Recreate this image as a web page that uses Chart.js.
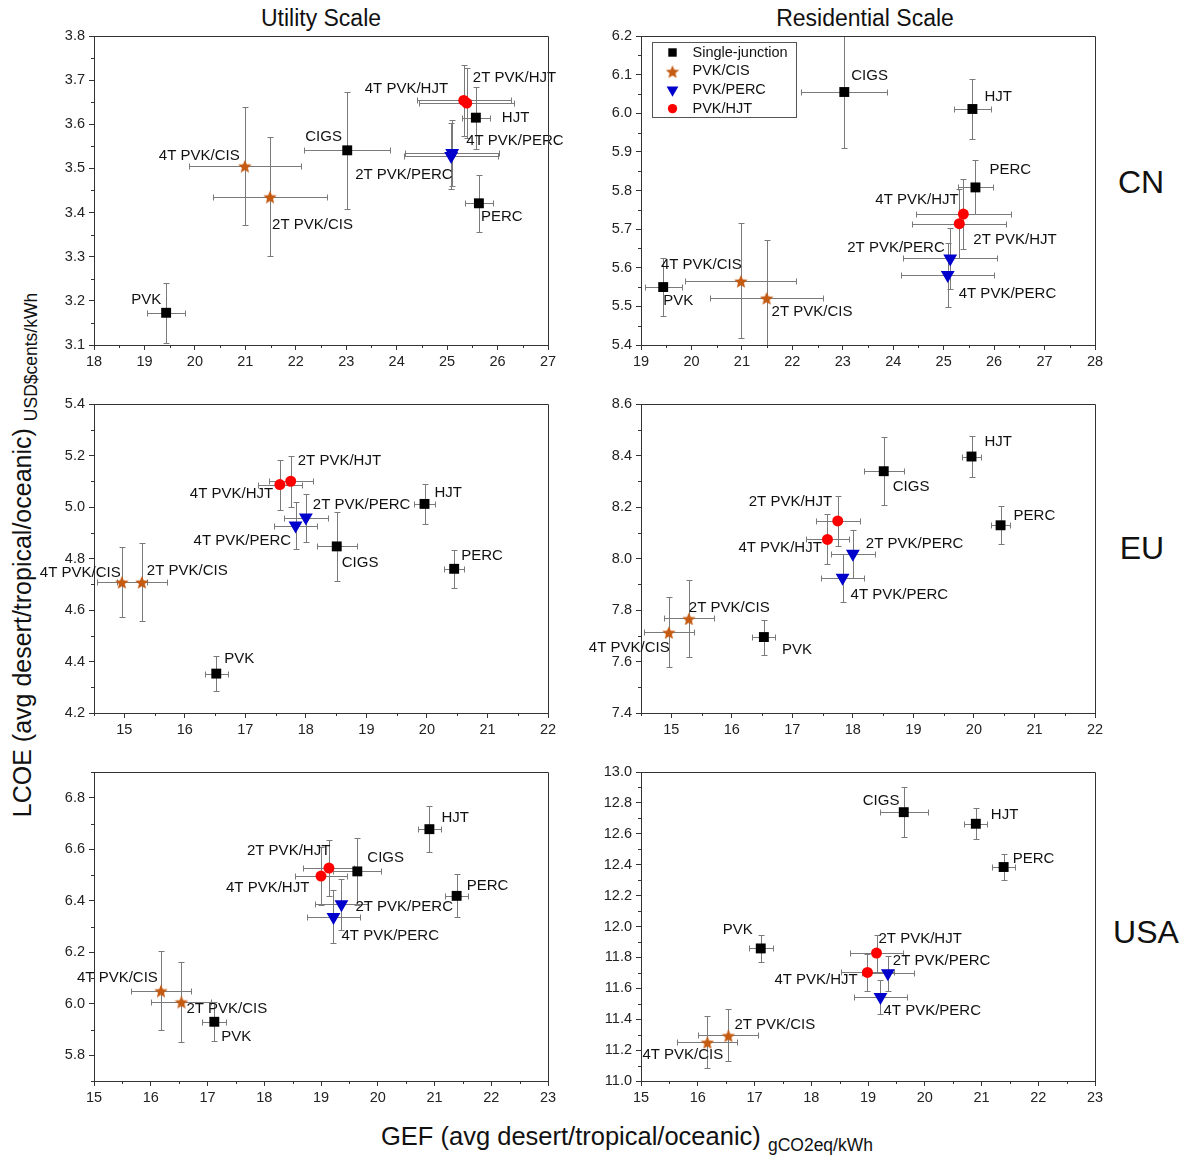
<!DOCTYPE html>
<html>
<head>
<meta charset="utf-8">
<script src="https://cdn.jsdelivr.net/npm/chart.js@4.4.1/dist/chart.umd.min.js"></script>
<style>
    body { margin: 0; background: #fff; width: 1192px; height: 1156px; position: relative; overflow: hidden;
           font-family: "Liberation Sans", Arial, sans-serif; color: #111; }
    canvas { position: absolute; }
    .txt { position: absolute; white-space: nowrap; line-height: 1; }
    .col { font-size: 23px; top: 7px; transform: translateX(-50%); }
    .row { font-size: 32px; transform: translate(-50%, -50%); }
    .sub { font-size: 17.5px; position: relative; top: 6px; }
</style>
</head>
<body>
<div class="txt col" style="left:321px">Utility Scale</div>
<div class="txt col" style="left:865px">Residential Scale</div>
<div class="txt row" style="left:1141px;top:182px">CN</div>
<div class="txt row" style="left:1142px;top:548px">EU</div>
<div class="txt row" style="left:1146px;top:932px">USA</div>
<div class="txt" style="font-size:25px;left:22px;top:555px;transform:translate(-50%,-50%) rotate(-90deg)">LCOE (avg desert/tropical/oceanic) <span class="sub">USD$cents/kWh</span></div>
<div class="txt" style="font-size:25.5px;left:381px;top:1124px">GEF (avg desert/tropical/oceanic) <span class="sub">gCO2eq/kWh</span></div>

<script>
'use strict';

// devices, same order in every panel
const devices = ['PVK', 'CIGS', 'HJT', 'PERC', '4T PVK/CIS', '2T PVK/CIS', '4T PVK/PERC', '2T PVK/PERC', '4T PVK/HJT', '2T PVK/HJT'];
const deviceGroup = [0, 0, 0, 0, 1, 1, 2, 2, 3, 3];
const groups = ['Single-junction', 'PVK/CIS', 'PVK/PERC', 'PVK/HJT'];

// CN utility
const cnUtilGef = [19.43, 23.02, 25.57, 25.63, 20.99, 21.49, 25.10, 25.08, 25.33, 25.39];
const cnUtilGefErr = [0.38, 0.85, 0.28, 0.27, 1.11, 1.13, 0.93, 0.93, 0.93, 0.94];
const cnUtilLcoe = [3.173, 3.541, 3.615, 3.421, 3.506, 3.436, 3.535, 3.528, 3.654, 3.648];
const cnUtilLcoeErr = [0.068, 0.132, 0.07, 0.064, 0.134, 0.135, 0.075, 0.075, 0.08, 0.08];

// CN residential
const cnResGef = [19.44, 23.03, 25.57, 25.63, 20.98, 21.49, 25.08, 25.13, 25.39, 25.31];
const cnResGefErr = [0.37, 0.85, 0.36, 0.34, 1.1, 1.12, 0.92, 0.93, 0.94, 0.93];
const cnResLcoe = [5.55, 6.055, 6.011, 5.808, 5.566, 5.522, 5.581, 5.624, 5.739, 5.714];
const cnResLcoeErr = [0.075, 0.146, 0.078, 0.07, 0.149, 0.15, 0.083, 0.08, 0.09, 0.09];

// EU utility
const euUtilGef = [16.52, 18.51, 19.96, 20.45, 14.96, 15.29, 17.83, 18.0, 17.57, 17.75];
const euUtilGefErr = [0.19, 0.33, 0.17, 0.16, 0.41, 0.41, 0.36, 0.36, 0.36, 0.36];
const euUtilLcoe = [4.353, 4.847, 5.012, 4.76, 4.709, 4.709, 4.928, 4.959, 5.087, 5.10];
const euUtilLcoeErr = [0.068, 0.133, 0.079, 0.073, 0.135, 0.15, 0.09, 0.093, 0.097, 0.1];

// EU residential
const euResGef = [16.53, 18.51, 19.96, 20.44, 14.96, 15.29, 17.83, 18.0, 17.58, 17.75];
const euResGefErr = [0.19, 0.33, 0.16, 0.16, 0.41, 0.41, 0.36, 0.36, 0.36, 0.36];
const euResLcoe = [7.695, 8.339, 8.396, 8.129, 7.714, 7.767, 7.925, 8.018, 8.074, 8.146];
const euResLcoeErr = [0.068, 0.133, 0.08, 0.073, 0.136, 0.15, 0.093, 0.093, 0.097, 0.098];

// USA utility
const usUtilGef = [17.12, 19.64, 20.91, 21.39, 16.18, 16.54, 19.22, 19.36, 19.0, 19.14];
const usUtilGefErr = [0.21, 0.42, 0.2, 0.2, 0.53, 0.53, 0.46, 0.46, 0.45, 0.45];
const usUtilLcoe = [5.93, 6.514, 6.678, 6.419, 6.051, 6.008, 6.337, 6.386, 6.496, 6.527];
const usUtilLcoeErr = [0.075, 0.13, 0.09, 0.083, 0.152, 0.155, 0.103, 0.1, 0.113, 0.11];

// USA residential
const usResGef = [17.11, 19.63, 20.90, 21.39, 16.17, 16.54, 19.22, 19.35, 18.99, 19.15];
const usResGefErr = [0.21, 0.42, 0.2, 0.2, 0.53, 0.53, 0.46, 0.46, 0.46, 0.46];
const usResLcoe = [11.858, 12.74, 12.665, 12.385, 11.252, 11.295, 11.544, 11.697, 11.703, 11.828];
const usResLcoeErr = [0.085, 0.16, 0.1, 0.086, 0.166, 0.168, 0.11, 0.113, 0.118, 0.12];

// tick labels
const cnUtilXTicks = [18, 19, 20, 21, 22, 23, 24, 25, 26, 27];
const cnResXTicks = [19, 20, 21, 22, 23, 24, 25, 26, 27, 28];
const euXTicks = [15, 16, 17, 18, 19, 20, 21, 22];
const usXTicks = [15, 16, 17, 18, 19, 20, 21, 22, 23];
const cnUtilYTicks = [3.1, 3.2, 3.3, 3.4, 3.5, 3.6, 3.7, 3.8];
const cnResYTicks = [5.4, 5.5, 5.6, 5.7, 5.8, 5.9, 6.0, 6.1, 6.2];
const euUtilYTicks = [4.2, 4.4, 4.6, 4.8, 5.0, 5.2, 5.4];
const euResYTicks = [7.4, 7.6, 7.8, 8.0, 8.2, 8.4, 8.6];
const usUtilYTicks = [5.8, 6.0, 6.2, 6.4, 6.6, 6.8];
const usResYTicks = [11.0, 11.2, 11.4, 11.6, 11.8, 12.0, 12.2, 12.4, 12.6, 12.8, 13.0];

const FONT = '"Liberation Sans", Arial, sans-serif';
const PLOT_W = 454, PLOT_H = 309;
const PAD_L = 60, PAD_T = 14, PAD_R = 40, Y_W = 48, X_H = 30;

function makeStar (size, color) {
    const c = document.createElement('canvas');
    c.width = size;
    c.height = size;
    const g = c.getContext('2d');
    const r = size / 2;
    g.fillStyle = color;
    g.beginPath();
    for (let k = 0; k < 10; k++) {
        const rad = k % 2 ? r * 0.45 : r;
        const a = -Math.PI / 2 + k * Math.PI / 5;
        g.lineTo(r + rad * Math.cos(a), r + 1 + rad * Math.sin(a));
    }
    g.closePath();
    g.fill();
    return c;
}

const groupStyle = [
    { pointStyle: 'rect', radius: 7, rotation: 0, color: '#000000' },
    { pointStyle: makeStar(14, '#c55a11'), radius: 7, rotation: 0, color: '#c55a11' },
    { pointStyle: 'triangle', radius: 8, rotation: 180, color: '#0000cc' },
    { pointStyle: 'circle', radius: 5.5, rotation: 0, color: '#ff0000' }
];

// [dx, dy] of each label's left edge / middle, relative to its marker
const panels = [
    {
        left: 94, top: 36, gef: cnUtilGef, gefErr: cnUtilGefErr, lcoe: cnUtilLcoe, lcoeErr: cnUtilLcoeErr,
        x: [18, 27, cnUtilXTicks], y: [3.1, 3.8, cnUtilYTicks],
        labelPos: [[-35, -13], [-42, -13], [26, 0], [2, 14], [-86, -10], [2, 28], [14, -12], [-96, 19], [-99, -12], [6, -25]]
    },
    {
        left: 641, top: 36, gef: cnResGef, gefErr: cnResGefErr, lcoe: cnResLcoe, lcoeErr: cnResLcoeErr,
        x: [19, 28, cnResXTicks], y: [5.4, 6.2, cnResYTicks], legend: true,
        labelPos: [[0, 14], [7, -16], [12, -12], [14, -18], [-80, -16], [5, 14], [11, 19], [-103, -11], [-88, -14], [14, 16]]
    },
    {
        left: 94, top: 404, gef: euUtilGef, gefErr: euUtilGefErr, lcoe: euUtilLcoe, lcoeErr: euUtilLcoeErr,
        x: [14.5, 22, euXTicks], y: [4.2, 5.4, euUtilYTicks],
        labelPos: [[8, -15], [5, 16], [10, -11], [7, -13], [-82, -9], [5, -11], [-102, 15], [7, -13], [-90, 9], [7, -20]]
    },
    {
        left: 641, top: 404, gef: euResGef, gefErr: euResGefErr, lcoe: euResLcoe, lcoeErr: euResLcoeErr,
        x: [14.5, 22, euXTicks], y: [7.4, 8.6, euResYTicks],
        labelPos: [[18, 13], [9, 16], [13, -15], [13, -9], [-80, 16], [0, -11], [8, 17], [13, -10], [-89, 8], [-89, -19]]
    },
    {
        left: 94, top: 772, gef: usUtilGef, gefErr: usUtilGefErr, lcoe: usUtilLcoe, lcoeErr: usUtilLcoeErr,
        x: [15, 23, usXTicks], y: [5.7, 6.9, usUtilYTicks],
        labelPos: [[7, 15], [10, -14], [12, -11], [10, -10], [-84, -13], [5, 7], [8, 19], [14, 3], [-95, 12], [-82, -17]]
    },
    {
        left: 641, top: 772, gef: usResGef, gefErr: usResGefErr, lcoe: usResLcoe, lcoeErr: usResLcoeErr,
        x: [15, 23, usXTicks], y: [11, 13, usResYTicks],
        labelPos: [[-38, -19], [-41, -11], [15, -9], [9, -8], [-65, 13], [6, -11], [3, 14], [5, -12], [-93, 7], [2, -14]]
    }
];

function minorTicks (ticks, min, max) {
    const step = ticks[1] - ticks[0];
    let out = [];
    for (let v = ticks[0] - step / 2; v <= max + 1e-9; v += step) {
        if (v >= min - 1e-9) {
            out.push(v);
        }
    }
    return out;
}

function crisp (v) {
    return Math.round(v) + 0.5;
}

// error bars, point labels, frame, minor ticks and legend
function panelPlugin (panel) {
    return {
        id: 'panelExtras',
        beforeDatasetsDraw (chart) {
            const { ctx, chartArea: a, scales: { x, y } } = chart;
            ctx.save();
            ctx.beginPath();
            ctx.rect(a.left, a.top, a.right - a.left, a.bottom - a.top);
            ctx.clip();
            ctx.strokeStyle = '#7a7a7a';
            ctx.lineWidth = 1;
            ctx.beginPath();
            panel.gef.forEach((g, i) => {
                const px = crisp(x.getPixelForValue(g));
                const py = crisp(y.getPixelForValue(panel.lcoe[i]));
                const x0 = crisp(x.getPixelForValue(g - panel.gefErr[i]));
                const x1 = crisp(x.getPixelForValue(g + panel.gefErr[i]));
                const y0 = crisp(y.getPixelForValue(panel.lcoe[i] - panel.lcoeErr[i]));
                const y1 = crisp(y.getPixelForValue(panel.lcoe[i] + panel.lcoeErr[i]));
                ctx.moveTo(x0, py); ctx.lineTo(x1, py);
                ctx.moveTo(x0, py - 3); ctx.lineTo(x0, py + 3);
                ctx.moveTo(x1, py - 3); ctx.lineTo(x1, py + 3);
                ctx.moveTo(px, y0); ctx.lineTo(px, y1);
                ctx.moveTo(px - 3, y0); ctx.lineTo(px + 3, y0);
                ctx.moveTo(px - 3, y1); ctx.lineTo(px + 3, y1);
            });
            ctx.stroke();
            ctx.restore();
        },
        afterDatasetsDraw (chart) {
            const { ctx, scales: { x, y } } = chart;
            ctx.save();
            ctx.font = '15px ' + FONT;
            ctx.fillStyle = '#111';
            ctx.textBaseline = 'middle';
            ctx.textAlign = 'left';
            devices.forEach((name, i) => {
                const [dx, dy] = panel.labelPos[i];
                ctx.fillText(name, x.getPixelForValue(panel.gef[i]) + dx, y.getPixelForValue(panel.lcoe[i]) + dy);
            });
            ctx.restore();
        },
        afterDraw (chart) {
            const { ctx, chartArea: a, scales: { x, y } } = chart;
            ctx.save();
            ctx.strokeStyle = '#333';
            ctx.lineWidth = 1;
            ctx.beginPath();
            ctx.moveTo(crisp(a.left), crisp(a.top));
            ctx.lineTo(crisp(a.right), crisp(a.top));
            ctx.lineTo(crisp(a.right), crisp(a.bottom));
            minorTicks(panel.x[2], panel.x[0], panel.x[1]).forEach(v => {
                const px = crisp(x.getPixelForValue(v));
                ctx.moveTo(px, a.bottom);
                ctx.lineTo(px, a.bottom + 3);
            });
            minorTicks(panel.y[2], panel.y[0], panel.y[1]).forEach(v => {
                const py = crisp(y.getPixelForValue(v));
                ctx.moveTo(a.left, py);
                ctx.lineTo(a.left - 3, py);
            });
            ctx.stroke();

            if (panel.legend) {
                const bx = crisp(a.left + 11), by = crisp(a.top + 6);
                ctx.strokeStyle = '#555';
                ctx.strokeRect(bx, by, 144, 75);
                ctx.font = '14.5px ' + FONT;
                ctx.textBaseline = 'middle';
                ctx.fillStyle = '#111';
                groups.forEach((name, g) => {
                    const ry = by + 10 + g * 18.7;
                    const st = groupStyle[g];
                    ctx.fillStyle = st.color;
                    Chart.helpers.drawPoint(ctx, {
                        pointStyle: st.pointStyle, radius: st.radius * 0.85, rotation: st.rotation, borderWidth: 0
                    }, bx + 20, ry);
                    ctx.fillStyle = '#111';
                    ctx.fillText(name, bx + 40, ry);
                });
            }
            ctx.restore();
        }
    };
}

panels.forEach(panel => {
    const canvas = document.createElement('canvas');
    canvas.width = PAD_L + Y_W + PLOT_W + PAD_R;
    canvas.height = PAD_T + PLOT_H + X_H;
    canvas.style.left = (panel.left - Y_W - PAD_L) + 'px';
    canvas.style.top = (panel.top - PAD_T) + 'px';
    document.body.appendChild(canvas);

    const datasets = groups.map((name, g) => {
        const st = groupStyle[g];
        let points = [];
        deviceGroup.forEach((dg, i) => {
            if (dg === g) {
                points.push({ x: panel.gef[i], y: panel.lcoe[i] });
            }
        });
        return {
            label: name,
            data: points,
            pointStyle: st.pointStyle,
            pointRadius: st.radius,
            pointRotation: st.rotation,
            backgroundColor: st.color,
            borderColor: st.color,
            borderWidth: 0
        };
    });

    const tickFont = { family: FONT, size: 14.5 };

    new Chart(canvas, {
        type: 'scatter',
        data: { datasets: datasets },
        options: {
            responsive: false,
            animation: false,
            devicePixelRatio: 1,
            events: [],
            layout: { padding: { left: PAD_L, top: PAD_T, right: PAD_R, bottom: 0 } },
            plugins: {
                legend: { display: false },
                tooltip: { enabled: false }
            },
            scales: {
                x: {
                    type: 'linear',
                    min: panel.x[0],
                    max: panel.x[1],
                    afterBuildTicks: (s) => { s.ticks = panel.x[2].map(v => ({ value: v })); },
                    afterFit: (s) => { s.height = X_H; },
                    ticks: {
                        font: tickFont, color: '#222', padding: 3, maxRotation: 0, autoSkip: false,
                        callback: (v) => String(v)
                    },
                    grid: { drawOnChartArea: false, tickLength: 5, color: '#333' },
                    border: { color: '#333' }
                },
                y: {
                    type: 'linear',
                    min: panel.y[0],
                    max: panel.y[1],
                    afterBuildTicks: (s) => { s.ticks = panel.y[2].map(v => ({ value: v })); },
                    afterFit: (s) => { s.width = Y_W; },
                    ticks: {
                        font: tickFont, color: '#222', padding: 4, autoSkip: false,
                        callback: (v) => Number(v).toFixed(1)
                    },
                    grid: { drawOnChartArea: false, tickLength: 5, color: '#333' },
                    border: { color: '#333' }
                }
            }
        },
        plugins: [panelPlugin(panel)]
    });
});
</script>
</body>
</html>
